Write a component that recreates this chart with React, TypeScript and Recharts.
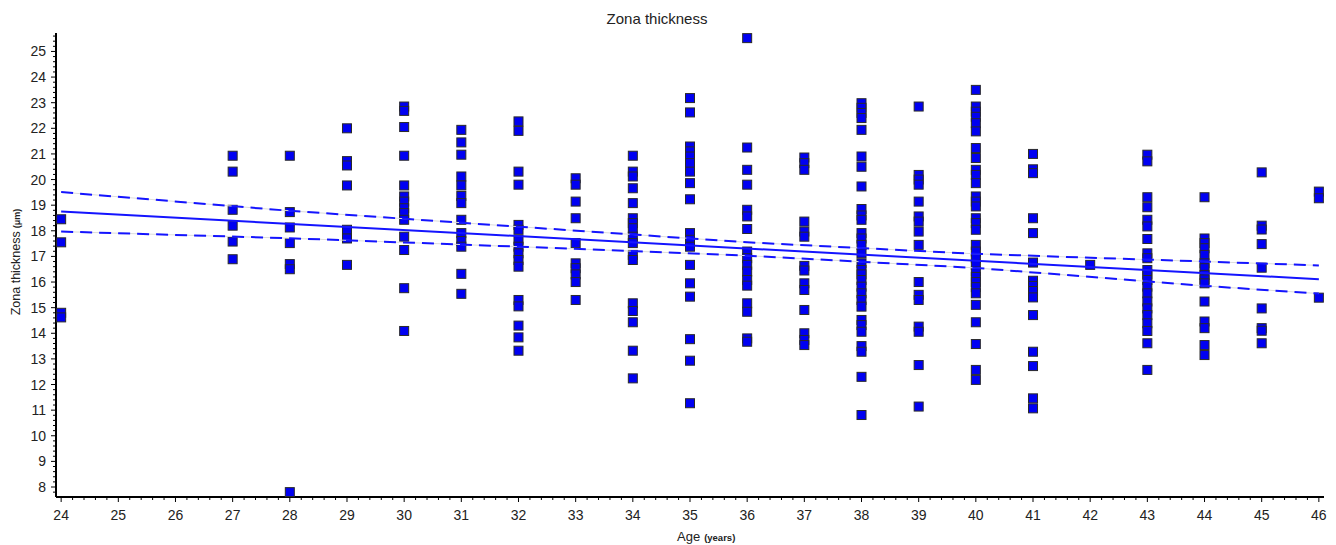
import { ScatterChart, Scatter, XAxis, YAxis } from 'recharts'

// ages on the x axis, one thickness column per age
const ages = [24, 27, 28, 29, 30, 31, 32, 33, 34, 35, 36, 37, 38, 39, 40, 41, 42, 43, 44, 45, 46]

const zona24 = [18.45, 17.55, 14.8, 14.62]
const zona27 = [20.93, 20.31, 18.82, 18.2, 17.58, 16.89]
const zona28 = [20.93, 18.73, 18.13, 17.52, 16.7, 16.5, 7.8]
const zona29 = [22.0, 20.72, 20.55, 19.77, 18.04, 17.7, 16.67]
const zona30 = [22.85, 22.68, 22.05, 20.93, 19.77, 19.34, 19.14, 18.88, 18.69, 18.43, 17.77, 17.25, 15.76, 14.09]
const zona31 = [21.94, 21.45, 20.97, 20.12, 19.77, 19.36, 19.08, 18.43, 17.91, 17.6, 17.38, 16.32, 15.54]
const zona32 = [22.27, 21.9, 20.31, 19.8, 18.23, 18.04, 17.65, 17.38, 17.12, 16.86, 16.6, 15.3, 15.05, 14.3, 13.84, 13.32]
const zona33 = [20.05, 19.8, 19.14, 18.49, 17.52, 16.73, 16.54, 16.3, 16.0, 15.3]
const zona34 = [20.93, 20.31, 20.12, 19.66, 19.08, 18.49, 18.3, 18.1, 17.77, 17.52, 17.06, 16.86, 15.17, 14.87, 14.43, 13.32, 12.24]
const zona35 = [23.18, 22.62, 21.29, 21.1, 20.9, 20.64, 20.31, 19.86, 19.23, 17.91, 17.65, 17.38, 16.67, 15.95, 15.43, 13.77, 12.93, 11.27]
const zona36 = [25.52, 21.25, 20.38, 19.8, 18.82, 18.56, 18.07, 17.19, 16.93, 16.67, 16.41, 16.08, 15.86, 15.17, 14.84, 13.8, 13.67]
const zona37 = [20.86, 20.64, 20.38, 18.36, 17.97, 17.77, 16.63, 16.45, 15.95, 15.69, 14.91, 14.0, 13.74, 13.54]
const zona38 = [22.98, 22.8, 22.6, 22.4, 21.94, 20.9, 20.5, 19.73, 18.85, 18.6, 18.43, 17.91, 17.7, 17.45, 17.12, 16.73, 16.47, 16.3, 16.08, 15.82, 15.56, 15.3, 15.04, 14.52, 14.32, 14.06, 13.5, 13.28, 12.3, 10.81]
const zona39 = [22.85, 20.18, 20.0, 19.8, 19.14, 18.56, 18.36, 17.97, 17.45, 16.0, 15.5, 15.3, 14.26, 14.06, 12.76, 11.14]
const zona40 = [23.5, 22.85, 22.65, 22.45, 22.2, 21.88, 21.23, 20.84, 20.38, 20.18, 19.86, 19.34, 19.14, 18.95, 18.49, 18.3, 18.04, 17.45, 17.19, 16.93, 16.67, 16.41, 16.2, 16.0, 15.8, 15.56, 15.11, 14.43, 13.58, 12.57, 12.18]
const zona41 = [21.0, 20.4, 20.25, 18.49, 17.91, 16.76, 16.05, 15.85, 15.65, 15.4, 14.71, 13.28, 12.72, 11.46, 11.07]
const zona42 = [16.67]
const zona43 = [20.97, 20.71, 19.31, 18.92, 18.43, 18.17, 17.68, 17.12, 16.93, 16.47, 16.3, 16.08, 15.82, 15.56, 15.24, 14.97, 14.71, 14.39, 14.09, 13.61, 12.57]
const zona44 = [19.31, 17.7, 17.52, 17.32, 17.06, 16.73, 16.54, 16.28, 16.1, 15.95, 15.24, 14.46, 14.2, 13.54, 13.15]
const zona45 = [20.28, 18.2, 18.05, 17.48, 16.56, 14.97, 14.2, 14.1, 13.61]
const zona46 = [19.53, 19.27, 15.39]

const zonaByAge = [zona24, zona27, zona28, zona29, zona30, zona31, zona32, zona33, zona34, zona35, zona36,
  zona37, zona38, zona39, zona40, zona41, zona42, zona43, zona44, zona45, zona46]

// regression line and its confidence band
const fitAges = [24, 46]
const fitValues = [18.75, 16.11]
const bandAges = [24, 28, 32, 36, 40, 44, 46]
const upperBand = [19.51, 18.78, 18.16, 17.55, 17.1, 16.8, 16.65]
const lowerBand = [17.97, 17.71, 17.38, 17.03, 16.55, 15.85, 15.55]

const xMajor = [24, 25, 26, 27, 28, 29, 30, 31, 32, 33, 34, 35, 36, 37, 38, 39, 40, 41, 42, 43, 44, 45, 46]
const yMajor = [8, 9, 10, 11, 12, 13, 14, 15, 16, 17, 18, 19, 20, 21, 22, 23, 24, 25]

const points = ages.flatMap((age, i) => zonaByAge[i].map(zt => ({ age, zt })))
const pairUp = (xs: number[], ys: number[]) => xs.map((age, i) => ({ age, zt: ys[i] }))
const fitData = pairUp(fitAges, fitValues)
const upperData = pairUp(bandAges, upperBand)
const lowerData = pairUp(bandAges, lowerBand)

// five minor steps between major ticks
const withMinors = (major: number[], from: number, to: number) => {
  const out: number[] = []
  for (let v = Math.round(from * 5); v <= Math.round(to * 5); v++) out.push(v / 5)
  return out.length ? out : major
}
const xTicks = withMinors(xMajor, 24, 46)
const yTicks = withMinors(yMajor, 7.8, 25.6)
const isMajor = (v: number) => Math.abs(v - Math.round(v)) < 1e-6

const FONT = '"Liberation Sans", Arial, sans-serif'
const BLUE = '#1414ff'

const Square = (props: any) => {
  const { cx, cy } = props
  if (cx == null || cy == null) return <g />
  return <rect x={cx - 4.5} y={cy - 4.5} width={9} height={9} fill="#0000f2" stroke="#2a2a2a" strokeWidth={1} />
}

const NoDot = () => <g />

const YTick = (props: any) => {
  const { x, y, payload } = props
  const v = payload.value
  const major = isMajor(v)
  return (
    <g>
      <line x1={x} x2={x - (major ? 5 : 3)} y1={y} y2={y} stroke="#000" strokeWidth={1} />
      {major && (
        <text x={x - 10} y={y} dy="0.36em" textAnchor="end" fontSize={14} fontFamily={FONT} fill="#222">
          {Math.round(v)}
        </text>
      )}
    </g>
  )
}

const XTick = (props: any) => {
  const { x, y, payload } = props
  const v = payload.value
  const major = isMajor(v)
  return (
    <g>
      <line x1={x} x2={x} y1={y} y2={y + (major ? 5 : 3)} stroke="#000" strokeWidth={1} />
      {major && (
        <text x={x} y={y + 23} textAnchor="middle" fontSize={14} fontFamily={FONT} fill="#222">
          {Math.round(v)}
        </text>
      )}
    </g>
  )
}

export default function App() {
  return (
    <div style={{ position: 'absolute', left: 0, top: 0, width: 1336, height: 545, background: '#fff' }}>
      <ScatterChart width={1336} height={545} margin={{ top: 33, right: 12, bottom: 18, left: 0 }}>
        <XAxis
          type="number"
          dataKey="age"
          domain={[23.91, 46.09]}
          ticks={xTicks}
          interval={0}
          tick={<XTick />}
          tickSize={0}
          tickMargin={0}
          tickLine={false}
          height={30}
          axisLine={{ stroke: '#000', strokeWidth: 2 }}
        />
        <YAxis
          type="number"
          dataKey="zt"
          domain={[7.61, 25.72]}
          ticks={yTicks}
          interval={0}
          tick={<YTick />}
          tickSize={0}
          tickMargin={0}
          tickLine={false}
          width={56}
          axisLine={{ stroke: '#000', strokeWidth: 2 }}
        />
        <Scatter data={points} shape={<Square />} isAnimationActive={false} />
        <Scatter data={upperData} shape={<NoDot />} line={{ stroke: '#dcdcdc', strokeWidth: 1 }} isAnimationActive={false} />
        <Scatter data={lowerData} shape={<NoDot />} line={{ stroke: '#dcdcdc', strokeWidth: 1 }} isAnimationActive={false} />
        <Scatter data={upperData} shape={<NoDot />} line={{ stroke: BLUE, strokeWidth: 2, strokeDasharray: '12 7' }} isAnimationActive={false} />
        <Scatter data={lowerData} shape={<NoDot />} line={{ stroke: BLUE, strokeWidth: 2, strokeDasharray: '12 7' }} isAnimationActive={false} />
        <Scatter data={fitData} shape={<NoDot />} line={{ stroke: BLUE, strokeWidth: 2 }} isAnimationActive={false} />
      </ScatterChart>
      <svg width={1336} height={545} style={{ position: 'absolute', left: 0, top: 0, pointerEvents: 'none' }}>
        <text x={657} y={24} textAnchor="middle" fontSize={15} fontFamily={FONT} fill="#222">Zona thickness</text>
        <text transform="translate(20,262) rotate(-90)" textAnchor="middle" fontSize={12.5} fontFamily={FONT} fill="#222">
          Zona thickness<tspan fontSize={9} fontWeight="bold" dx={3}>(μm)</tspan>
        </text>
        <text x={677} y={541} fontSize={13} fontFamily={FONT} fill="#222">
          Age<tspan fontSize={9.5} fontWeight="bold" dx={4}>(years)</tspan>
        </text>
      </svg>
    </div>
  )
}
